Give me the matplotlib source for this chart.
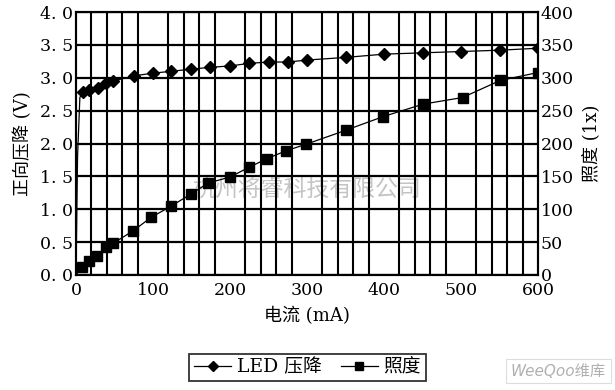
import numpy as np
import matplotlib.pyplot as plt

plt.rcParams['font.family'] = ['DejaVu Serif', 'Noto Sans CJK SC']

# LED forward voltage vs current
led_current = [0, 2, 5, 9, 17, 28, 39, 48, 75, 100, 124, 149, 174, 200, 225,
               250, 275, 300, 350, 400, 450, 500, 550, 600]
led_voltage = [0, 1.8, 2.7, 2.79, 2.82, 2.85, 2.92, 2.95, 3.03, 3.07, 3.10,
               3.13, 3.16, 3.18, 3.22, 3.24, 3.24, 3.27, 3.31, 3.36, 3.38,
               3.40, 3.42, 3.45]

# illuminance vs current
lux_current = [0, 8, 17, 27, 39, 48, 74, 98, 124, 149, 172, 200, 225, 248,
               273, 299, 350, 399, 451, 502, 551, 600]
lux_value = [0, 12, 21, 29, 42, 48, 67, 88, 105, 123, 140, 149, 164, 177,
             189, 199, 220, 241, 260, 270, 296, 308]

left_ticks = [0, 0.5, 1.0, 1.5, 2.0, 2.5, 3.0, 3.5, 4.0]
right_ticks = [0, 50, 100, 150, 200, 250, 300, 350, 400]
x_ticks = [0, 100, 200, 300, 400, 500, 600]

fig = plt.figure(figsize=(6.15, 3.9), dpi=100)
ax = fig.add_axes([0.1236, 0.295, 0.7512, 0.674])
ax2 = ax.twinx()

ax.set_xlim(0, 600)
ax.set_ylim(0, 4)
ax2.set_ylim(0, 400)

ax.set_xticks(x_ticks)
ax.set_xticks(np.arange(0, 601, 20), minor=True)
ax.set_yticks(left_ticks)
ax.set_yticklabels([f"{v:.1f}".replace('.', '. ') for v in left_ticks])
ax2.set_yticks(right_ticks)

for a in (ax, ax2):
    a.tick_params(which='both', length=0, labelsize=12.5, pad=2)
    for s in a.spines.values():
        s.set_linewidth(1.5)
ax.tick_params(axis='x', pad=5)

ax.set_axisbelow(True)
ax.grid(True, which='minor', axis='x', color='black', lw=1.5)
ax.grid(True, which='major', axis='y', color='black', lw=1.6)

ax.text(300, 1.29, '杭州将睿科技有限公司', fontsize=16.5, color='#c4c4c4',
        ha='center', va='center', zorder=0.4)

l1, = ax.plot(led_current, led_voltage, color='black', lw=0.9, marker='D',
              markersize=6, markevery=slice(3, None), zorder=3)
l2, = ax2.plot(lux_current, lux_value, color='black', lw=0.9, marker='s',
               markersize=6.5, markevery=slice(1, None), zorder=3)

ax.set_ylabel('正向压降 (V)', fontsize=13, labelpad=6)
ax2.set_ylabel('照度 (1x)', fontsize=13, labelpad=6)
ax.set_xlabel('电流 (mA)', fontsize=13, labelpad=6)

leg = fig.legend([l1, l2], ['LED 压降', '照度'], loc='center',
                 bbox_to_anchor=(0.5, 0.058), ncol=2, fontsize=13.5,
                 frameon=True, fancybox=False, edgecolor='black',
                 handlelength=2.0, handletextpad=0.3, columnspacing=1.0,
                 borderpad=0.25, markerscale=0.8)
leg.get_frame().set_linewidth(1.3)

fig.text(0.908, 0.048, 'WeeQoo维库', fontsize=11, color='#b0b0b0',
         style='italic', ha='center', va='center', family=['DejaVu Sans', 'Noto Sans CJK SC'],
         bbox=dict(boxstyle='square,pad=0.3', fc='white', ec='#dddddd', lw=0.8))

fig.savefig('out.png', dpi=100)
